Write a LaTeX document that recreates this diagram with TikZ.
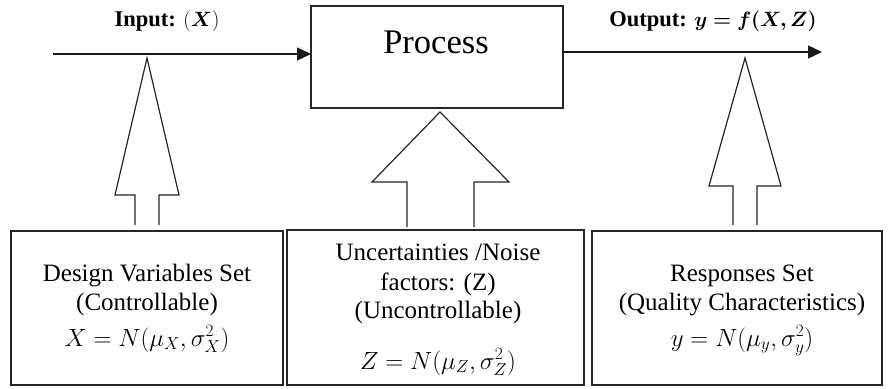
\documentclass[tikz,border=0pt]{standalone}
\usepackage{amsmath}
\usepackage{bm}
\usepackage{fontspec}
\setmainfont{Liberation Serif}
\usetikzlibrary{arrows.meta}

\tikzset{
  frame/.style={draw=black!85, line width=1.2pt},
  flow/.style={draw=black!90, line width=1.3pt, -{Triangle[length=14pt,width=13pt]}},
  blockarrow/.style={draw=black!85, line width=1.2pt, line join=miter},
  boxtext/.style={font=\fontsize{25}{30}\selectfont, align=center, inner sep=0pt, anchor=base},
  boxmath/.style={font=\fontsize{24}{30}\selectfont, inner sep=0pt, anchor=base},
  toplabel/.style={font=\fontsize{22.5}{26}\selectfont\bfseries, inner sep=0pt, anchor=base},
}

\begin{document}
\begin{tikzpicture}[x=1pt,y=-1pt]
  \useasboundingbox (0,0) rectangle (888,388);

  % central process block
  \draw[frame] (311,6) rectangle (563,108);
  \coordinate (procW) at (311,54);
  \coordinate (procE) at (563,52);
  \node[font=\fontsize{34.5}{38}\selectfont, inner sep=0pt, anchor=base] (proc) at (436,53) {Process};

  % input and output flows
  \coordinate (inStart) at (53,54);
  \coordinate (outEnd) at (822,52);
  \draw[flow] (inStart) -- (procW);
  \draw[flow] (procE) -- (outEnd);
  \node[toplabel] (inLabel) at (167,27) {Input: $(\bm{X})$};
  \node[toplabel] (outLabel) at (713,27) {Output: $\bm{y = f(X,Z)}$};

  % hollow block arrows pointing upward (open at the bottom)
  \fill[white] (115,195) -- (147,58) -- (179,195) -- (159,195) -- (159,225) -- (135,225) -- (135,195) -- cycle;
  \draw[blockarrow] (135,225) -- (135,195) -- (115,195) -- (147,58) -- (179,195) -- (159,195) -- (159,225);

  \fill[white] (372,182) -- (440,112) -- (509,182) -- (474,182) -- (474,227) -- (407,227) -- (407,182) -- cycle;
  \draw[blockarrow] (407,227) -- (407,182) -- (372,182) -- (440,112) -- (509,182) -- (474,182) -- (474,227);

  \fill[white] (709,186) -- (745,58) -- (781,186) -- (757,186) -- (757,225) -- (733,225) -- (733,186) -- cycle;
  \draw[blockarrow] (733,225) -- (733,186) -- (709,186) -- (745,58) -- (781,186) -- (757,186) -- (757,225);

  % lower boxes
  \draw[frame] (11,231) rectangle (283,385);
  \draw[frame] (287,230) rectangle (584,385);
  \draw[frame] (592,231) rectangle (882,385);

  \node[boxtext] (dv1) at (147,281) {Design Variables Set};
  \node[boxtext] (dv2) at (147,310) {(Controllable)};
  \node[boxmath] (dv3) at (147,346) {$X = N(\mu_X,\sigma_X^2)$};

  \node[boxtext] (nz1) at (438,260) {Uncertainties /Noise};
  \node[boxtext] (nz2) at (438,290) {factors: (Z)};
  \node[boxtext] (nz3) at (438,318) {(Uncontrollable)};
  \node[boxmath] (nz4) at (438,369) {$Z = N(\mu_Z,\sigma_Z^2)$};

  \node[boxtext] (rs1) at (742,281) {Responses Set};
  \node[boxtext] (rs2) at (742,310) {(Quality Characteristics)};
  \node[boxmath] (rs3) at (742,346) {$y = N(\mu_y,\sigma_y^2)$};
\end{tikzpicture}
\end{document}
